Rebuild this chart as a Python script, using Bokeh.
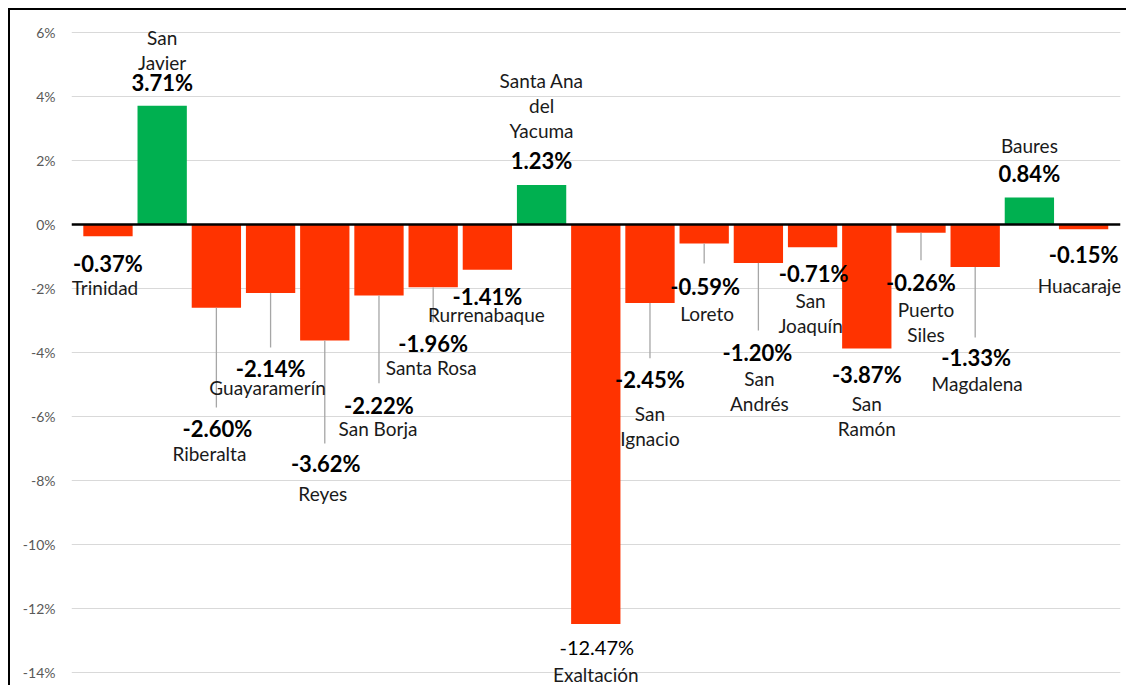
from bokeh.plotting import figure
from bokeh.models import ColumnDataSource, FixedTicker, PrintfTickFormatter, Span, Range1d
from bokeh.core.properties import value
from bokeh.embed import file_html
from bokeh.resources import INLINE

# ---------------- data ----------------
municipios = ["Trinidad", "San Javier", "Riberalta", "Guayaramerín", "Reyes", "San Borja",
              "Santa Rosa", "Rurrenabaque", "Santa Ana del Yacuma", "Exaltación", "San Ignacio",
              "Loreto", "San Andrés", "San Joaquín", "San Ramón", "Puerto Siles", "Magdalena",
              "Baures", "Huacaraje"]
variacion = [-0.37, 3.71, -2.60, -2.14, -3.62, -2.22, -1.96, -1.41, 1.23, -12.47, -2.45,
             -0.59, -1.20, -0.71, -3.87, -0.26, -1.33, 0.84, -0.15]
# how each category name is broken in its label
etiquetas = ["Trinidad", "San\nJavier", "Riberalta", "Guayaramerín", "Reyes", "San Borja",
             "Santa Rosa", "Rurrenabaque", "Santa Ana\ndel\nYacuma", "Exaltación", "San\nIgnacio",
             "Loreto", "San\nAndrés", "San\nJoaquín", "San\nRamón", "Puerto\nSiles", "Magdalena",
             "Baures", "Huacaraje"]
y_ticks = [-14, -12, -10, -8, -6, -4, -2, 0, 2, 4, 6]

# ---------------- label layout (percent units) ----------------
val_label_y = [-1.218, 4.433, -6.369, -4.496, -7.462, -5.651, -3.715, -2.248, 1.998, -13.206,
               -4.839, -1.936, -3.987, -1.530, -4.683, -1.811, -4.152, 1.592, -0.937]
cat_label_y = [-1.967, 5.838, -7.150, -5.089, -8.398, -6.369, -4.465, -2.810, 4.496, -14.05,
               -5.901, -2.779, -4.808, -2.373, -5.589, -2.654, -4.964, 2.466, -1.904]
leader_end = [None, None, -5.71, -3.84, -6.84, -4.96, -3.06, None, None, None,
              -4.18, -1.22, -3.31, None, None, -1.12, -3.53, None, None]
val_dx = [0, 0, 1, 0, 1, 0, 0, 0, 0, 1, 0, 1, -1, 1, 0, 0, 1, 0, 0]
cat_dx = [-3, 0, -7, -3, -2, -1, -2, -1, 0, 0, 0, 3, 1, -2, 0, 5, 2, 0, -4]
line_step = 0.78

GREEN = "#00B050"
RED = "#FF3300"

xs = list(range(len(municipios)))
colors = [GREEN if v > 0 else RED for v in variacion]

p = figure(width=1118, height=677, output_backend="svg", toolbar_location=None,
           x_range=Range1d(-0.673, 18.681), y_range=Range1d(-14.362, 6.556),
           x_axis_location=None, min_border_left=61, min_border_right=8,
           min_border_top=4, min_border_bottom=3, outline_line_color=None)
p.styles = {"margin-left": "8px", "margin-top": "8px",
            "border-left": "2px solid black", "border-top": "2px solid black"}

p.yaxis.ticker = FixedTicker(ticks=y_ticks)
p.yaxis.formatter = PrintfTickFormatter(format="%d%%")
p.yaxis.axis_line_color = None
p.yaxis.major_tick_line_color = None
p.yaxis.minor_tick_line_color = None
p.yaxis.major_tick_out = 0
p.yaxis.major_tick_in = 0
p.yaxis.major_label_standoff = 16
p.yaxis.major_label_text_font = "Lato"
p.yaxis.major_label_text_font_size = "14px"
p.yaxis.major_label_text_color = "#595959"
p.xgrid.visible = False
p.ygrid.grid_line_color = "#D9D9D9"
p.ygrid.grid_line_width = 1

bars = ColumnDataSource(dict(x=xs, top=variacion, color=colors))
p.vbar(x="x", top="top", bottom=0, width=0.91, source=bars, fill_color="color", line_color=None)

# leader lines
lx, ly0, ly1 = [], [], []
for i, e in enumerate(leader_end):
    if e is not None:
        lx.append(xs[i]); ly0.append(variacion[i]); ly1.append(e)
p.segment(x0=lx, y0=ly0, x1=lx, y1=ly1, line_color="#A6A6A6", line_width=1.3)

p.add_layout(Span(location=0, dimension="width", line_color="black", line_width=2.5))

# value labels
bold_idx = [i for i in xs if municipios[i] != "Exaltación"]
norm_idx = [i for i in xs if municipios[i] == "Exaltación"]
for idx, style in ((bold_idx, "bold"), (norm_idx, "normal")):
    src = ColumnDataSource(dict(
        x=[xs[i] for i in idx],
        y=[val_label_y[i] for i in idx],
        t=[f"{variacion[i]:.2f}%" for i in idx],
        dx=[val_dx[i] for i in idx]))
    p.text(x="x", y="y", text="t", x_offset="dx", source=src, text_font=value("Lato"),
           text_font_size="22px" if style == "bold" else "20px", text_font_style=style,
           text_align="center", text_baseline="middle", text_color="black")

# category labels
cx, cy, ct, cdx = [], [], [], []
for i in xs:
    for k, line in enumerate(etiquetas[i].split("\n")):
        cx.append(xs[i]); cy.append(cat_label_y[i] - k * line_step)
        ct.append(line); cdx.append(cat_dx[i])
p.text(x="x", y="y", text="t", x_offset="dx",
       source=ColumnDataSource(dict(x=cx, y=cy, t=ct, dx=cdx)),
       text_font=value("Lato"), text_font_size="19px", text_align="center",
       text_baseline="middle", text_color="#1a1a1a")

open("out.html", "w").write(file_html(p, INLINE))
